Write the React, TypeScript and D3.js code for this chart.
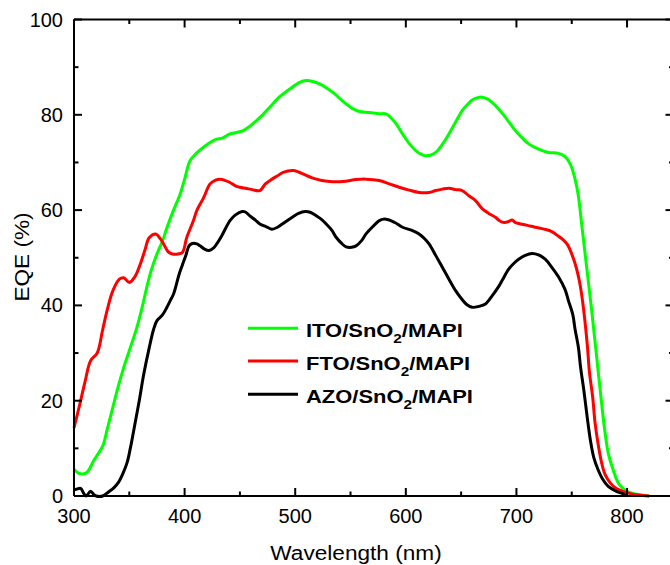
import React from "react";
import * as d3 from "d3";

const itoData: [number, number][] = [
  [300, 5.6], [304, 4.8], [308, 4.6], [312, 5.0], [318, 7.5], [326, 10.5], [330, 14], [335, 18.5],
  [340, 23], [345, 27], [350, 30.5], [357, 35.5], [362, 40], [366, 44], [370, 47.5], [375, 50.8],
  [380, 53.5], [384, 56.3], [390, 60], [396, 63.4], [400, 66.5], [405, 70.4], [411, 72], [417, 73.2],
  [423, 74.2], [429, 74.9], [434, 75.1], [441, 76], [447, 76.3], [453, 76.7], [459, 77.6], [465, 78.8],
  [471, 80.1], [477, 81.6], [486, 83.8], [495, 85.4], [504, 86.8], [510, 87.2], [516, 87], [522, 86.5],
  [528, 85.7], [534, 84.7], [540, 83.5], [546, 82.3], [552, 81.3], [558, 80.7], [567, 80.5], [576, 80.2],
  [582, 80.2], [590, 78.5], [597, 76], [603, 74], [609, 72.5], [614, 71.7], [618, 71.4], [622, 71.5],
  [627, 72.1], [633, 73.8], [639, 76], [645, 78.5], [651, 80.9], [656, 82.2], [660, 83.1], [665, 83.6],
  [669, 83.7], [674, 83.3], [678, 82.6], [684, 81.2], [690, 79.5], [699, 76.7], [705, 75.2], [711, 73.9],
  [720, 72.8], [729, 72.1], [738, 71.9], [744, 71.2], [749, 69.5], [753, 66.5], [756, 63], [759, 57],
  [762, 51], [765, 45], [768, 39], [771, 32.5], [774, 26], [777, 19.5], [780, 13.5], [783, 9],
  [787, 5.8], [793, 2.4], [800, 1], [810, 0.3], [820, 0]
];

const ftoData: [number, number][] = [
  [300, 14.3], [305, 19], [310, 24], [315, 28.4], [321, 30], [326, 35], [330, 39], [335, 43],
  [341, 45.5], [345, 45.8], [350, 44.8], [355, 46], [360, 48.7], [364, 51.5], [368, 54.2], [374, 55],
  [378, 54], [381, 52.9], [385, 51.3], [389, 50.8], [394, 50.8], [398, 51.1], [402, 54.3], [408, 57.8],
  [411, 59.9], [417, 62.5], [423, 65.5], [428, 66.3], [432, 66.5], [437, 66.2], [441, 65.8], [446, 65.1],
  [450, 64.8], [459, 64.4], [468, 64.1], [473, 65.5], [479, 66.5], [484, 67.2], [489, 67.9], [498, 68.3],
  [503, 68], [507, 67.6], [516, 66.7], [524, 66.2], [531, 66], [543, 66], [555, 66.4], [564, 66.5],
  [576, 66.2], [585, 65.5], [594, 64.8], [603, 64.2], [612, 63.7], [621, 63.7], [627, 64.1], [633, 64.4],
  [639, 64.6], [645, 64.3], [651, 64.1], [657, 63], [663, 62], [669, 60.3], [675, 59.3], [681, 58.5],
  [685, 57.7], [689, 57.4], [693, 57.6], [696, 57.9], [699, 57.4], [702, 57.2], [710, 56.8], [717, 56.4],
  [725, 56], [732, 55.5], [738, 54.5], [742, 53.8], [746, 52.8], [750, 50.8], [754, 48], [757, 45],
  [760, 40.5], [764, 31.9], [766, 26], [769, 20.6], [771, 15.5], [774, 10.7], [777, 7], [780, 4.6],
  [785, 2.7], [790, 1.6], [797, 0.9], [803, 0.5], [810, 0.2], [820, 0]
];

const azoData: [number, number][] = [
  [300, 1.3], [302, 1.4], [306, 1.6], [309, 0.5], [311, 0], [315, 1], [318, 0.3], [320, 0],
  [326, 0], [331, 0.8], [336, 1.7], [340, 2.8], [344, 4.6], [348, 7], [351, 10.1], [355, 15],
  [359, 20], [363, 25.5], [368, 31.1], [372, 35], [375, 36.8], [380, 38], [384, 39.6], [387, 41],
  [390, 42.4], [395, 46.5], [398, 48.5], [401, 50.4], [404, 52.5], [407, 53], [411, 52.9], [414, 52.5],
  [418, 51.8], [422, 51.5], [426, 52], [429, 52.9], [434, 54.8], [441, 57.8], [446, 59], [452, 59.7],
  [455, 59.6], [459, 58.8], [464, 57.9], [468, 57.1], [474, 56.5], [479, 56], [484, 56.4], [489, 57.2],
  [494, 58], [498, 58.6], [503, 59.3], [509, 59.7], [514, 59.5], [519, 58.8], [524, 58], [528, 57.1],
  [533, 55.8], [537, 54.3], [542, 53], [546, 52.3], [551, 52.2], [555, 52.5], [560, 53.6], [564, 55],
  [570, 56.5], [576, 57.8], [582, 58.1], [590, 57.4], [597, 56.4], [605, 55.8], [612, 55], [617, 54],
  [621, 52.9], [627, 50.5], [633, 48], [639, 45.5], [645, 43.1], [650, 41.5], [655, 40.2], [660, 39.6],
  [666, 39.8], [672, 40.3], [678, 42], [684, 44], [687, 45.2], [693, 47.6], [698, 48.9], [702, 49.7],
  [708, 50.5], [714, 50.9], [720, 50.6], [726, 49.7], [732, 48], [738, 46], [744, 43.3], [747, 41],
  [751, 38], [753, 35], [756, 31.2], [758, 27], [761, 22.1], [764, 16.5], [767, 11.5], [770, 8],
  [774, 5.4], [778, 3.5], [783, 2], [790, 1], [796, 0.5], [800, 0]
];

const seriesNames = ["ITO", "FTO", "AZO"];
const seriesColors = ["#00ff00", "#ff0000", "#000000"];
const xMajorTicks = [300, 400, 500, 600, 700, 800];
const xMinorTicks = [350, 450, 550, 650, 750];
const yMajorTicks = [0, 20, 40, 60, 80, 100];
const yMinorTicks = [10, 30, 50, 70, 90];

const FONT = "'Liberation Sans', Arial, sans-serif";

export default function App() {
  const x = d3.scaleLinear().domain([300, 842]).range([74, 673.5]);
  const y = d3.scaleLinear().domain([0, 100]).range([496, 19.5]);
  const line = d3
    .line<[number, number]>()
    .x((d) => x(d[0]))
    .y((d) => y(d[1]))
    .curve(d3.curveCatmullRom.alpha(0.5));

  const datasets = [itoData, ftoData, azoData];
  const x0 = x(300);
  const x1 = x(842);
  const yb = y(0);
  const yt = y(100);
  const major = 8;
  const minor = 4.5;

  const legendRows = [328.3, 361, 394.3];

  return (
    <svg
      width={670}
      height={565}
      style={{ position: "absolute", left: 0, top: 0, background: "#fff" }}
      fontFamily={FONT}
    >
      <rect x={0} y={0} width={670} height={565} fill="#fff" />
      {datasets.map((d, i) => (
        <path
          key={seriesNames[i]}
          d={line(d) || ""}
          fill="none"
          stroke={seriesColors[i]}
          strokeWidth={3}
          strokeLinejoin="round"
        />
      ))}

      <g stroke="#000" strokeWidth={2} fill="none">
        <line x1={x0} x2={x1} y1={yb} y2={yb} />
        <line x1={x0} x2={x1} y1={yt} y2={yt} />
        <line x1={x0} x2={x0} y1={yt} y2={yb} />
        <line x1={x1} x2={x1} y1={yt} y2={yb} />
        {xMajorTicks.map((t) => (
          <g key={"xM" + t}>
            <line x1={x(t)} x2={x(t)} y1={yb} y2={yb - major} />
            <line x1={x(t)} x2={x(t)} y1={yt} y2={yt + major} />
          </g>
        ))}
        {xMinorTicks.map((t) => (
          <g key={"xm" + t}>
            <line x1={x(t)} x2={x(t)} y1={yb} y2={yb - minor} />
            <line x1={x(t)} x2={x(t)} y1={yt} y2={yt + minor} />
          </g>
        ))}
        {yMajorTicks.map((t) => (
          <g key={"yM" + t}>
            <line x1={x0} x2={x0 + major} y1={y(t)} y2={y(t)} />
            <line x1={x1} x2={x1 - major} y1={y(t)} y2={y(t)} />
          </g>
        ))}
        {yMinorTicks.map((t) => (
          <g key={"ym" + t}>
            <line x1={x0} x2={x0 + minor} y1={y(t)} y2={y(t)} />
            <line x1={x1} x2={x1 - minor} y1={y(t)} y2={y(t)} />
          </g>
        ))}
      </g>

      <g fontSize={20} fill="#000">
        {xMajorTicks.map((t) => (
          <text key={"xl" + t} x={x(t)} y={523} textAnchor="middle">
            {t}
          </text>
        ))}
        {yMajorTicks.map((t) => (
          <text key={"yl" + t} x={63} y={y(t) + 7} textAnchor="end">
            {t}
          </text>
        ))}
      </g>

      <text
        transform="translate(356,560) scale(1.16,1)"
        textAnchor="middle"
        fontSize={19.5}
        fill="#000"
      >
        Wavelength (nm)
      </text>
      <text
        transform="translate(29,257) rotate(-90) scale(1.16,1)"
        textAnchor="middle"
        fontSize={19.5}
        fill="#000"
      >
        EQE (%)
      </text>

      {seriesNames.map((n, i) => (
        <g key={"lg" + n}>
          <line
            x1={248}
            x2={298}
            y1={legendRows[i]}
            y2={legendRows[i]}
            stroke={seriesColors[i]}
            strokeWidth={3}
          />
          <text
            transform={`translate(306,${legendRows[i] + 8.5}) scale(1.18,1)`}
            fontSize={18.6}
            fontWeight="bold"
            fill="#000"
          >
            {n}/SnO
            <tspan fontSize={13} dy={6}>
              2
            </tspan>
            <tspan fontSize={18.6} dy={-6}>
              /MAPI
            </tspan>
          </text>
        </g>
      ))}
    </svg>
  );
}
